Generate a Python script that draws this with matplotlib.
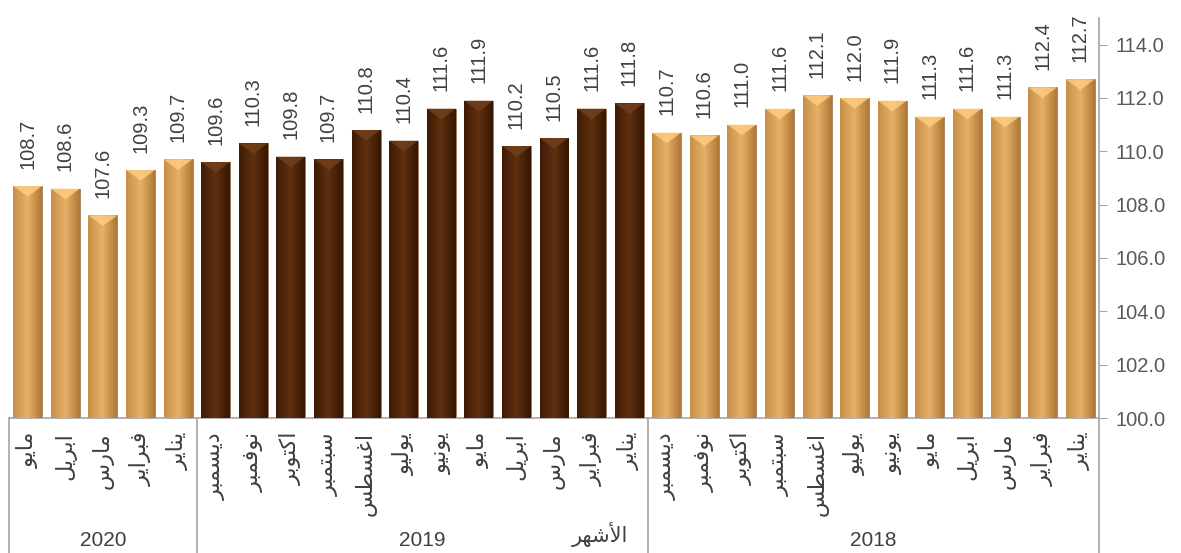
import numpy as np
import matplotlib
matplotlib.use("Agg")
import matplotlib.pyplot as plt
import matplotlib.transforms as mtransforms
from matplotlib.colors import to_rgb
from matplotlib.patches import Polygon

plt.rcParams['font.family'] = ['Liberation Sans', 'DejaVu Sans']

# data, left to right as in the chart
years = ['2020', '2019', '2018']
months_2020 = ['مايو', 'ابريل', 'مارس', 'فبراير', 'يناير']
months_full = ['ديسمبر', 'نوفمبر', 'اكتوبر', 'سبتمبر', 'اغسطس', 'يوليو',
               'يونيو', 'مايو', 'ابريل', 'مارس', 'فبراير', 'يناير']
values_2020 = [108.7, 108.6, 107.6, 109.3, 109.7]
values_2019 = [109.6, 110.3, 109.8, 109.7, 110.8, 110.4, 111.6, 111.9, 110.2, 110.5, 111.6, 111.8]
values_2018 = [110.7, 110.6, 111.0, 111.6, 112.1, 112.0, 111.9, 111.3, 111.6, 111.3, 112.4, 112.7]
y_ticks = [100, 102, 104, 106, 108, 110, 112, 114]
axis_title = 'الأشهر'

# small arabic shaper (presentation forms) since matplotlib does no shaping
FORMS = {
    'ا': ('\uFE8D', '\uFE8E', None, None),
    'أ': ('\uFE83', '\uFE84', None, None),
    'ب': ('\uFE8F', '\uFE90', '\uFE91', '\uFE92'),
    'ت': ('\uFE95', '\uFE96', '\uFE97', '\uFE98'),
    'د': ('\uFEA9', '\uFEAA', None, None),
    'ر': ('\uFEAD', '\uFEAE', None, None),
    'س': ('\uFEB1', '\uFEB2', '\uFEB3', '\uFEB4'),
    'ش': ('\uFEB5', '\uFEB6', '\uFEB7', '\uFEB8'),
    'ط': ('\uFEC1', '\uFEC2', '\uFEC3', '\uFEC4'),
    'غ': ('\uFECD', '\uFECE', '\uFECF', '\uFED0'),
    'ف': ('\uFED1', '\uFED2', '\uFED3', '\uFED4'),
    'ك': ('\uFED9', '\uFEDA', '\uFEDB', '\uFEDC'),
    'ل': ('\uFEDD', '\uFEDE', '\uFEDF', '\uFEE0'),
    'م': ('\uFEE1', '\uFEE2', '\uFEE3', '\uFEE4'),
    'ن': ('\uFEE5', '\uFEE6', '\uFEE7', '\uFEE8'),
    'ه': ('\uFEE9', '\uFEEA', '\uFEEB', '\uFEEC'),
    'و': ('\uFEED', '\uFEEE', None, None),
    'ي': ('\uFEF1', '\uFEF2', '\uFEF3', '\uFEF4'),
}
LAM_ALEF = {'ا': ('\uFEFB', '\uFEFC'), 'أ': ('\uFEF7', '\uFEF8')}


def shape(word):
    units = []
    i = 0
    while i < len(word):
        ch = word[i]
        if ch == 'ل' and i + 1 < len(word) and word[i + 1] in LAM_ALEF:
            units.append(('lig', LAM_ALEF[word[i + 1]]))
            i += 2
        else:
            units.append(('ch', ch))
            i += 1
    out = []
    for k, (kind, val) in enumerate(units):
        prev_joins = k > 0 and units[k - 1][0] == 'ch' and FORMS[units[k - 1][1]][2] is not None
        if kind == 'lig':
            out.append(val[1] if prev_joins else val[0])
            continue
        iso, fin, ini, med = FORMS[val]
        next_joins = ini is not None and k + 1 < len(units)
        if prev_joins and next_joins:
            out.append(med)
        elif prev_joins:
            out.append(fin)
        elif next_joins:
            out.append(ini)
        else:
            out.append(iso)
    return ''.join(reversed(out))


groups = [months_2020, months_full, months_full]
group_values = [values_2020, values_2019, values_2018]
labels = [m for g in groups for m in g]
values = [v for g in group_values for v in g]
x = np.arange(len(values))

gold = ('#c98f48', '#e6b069', '#b07736')
brown = ('#3f1b05', '#5e300f', '#361603')
bar_styles = [gold, brown, gold]
colors = [s for s, g in zip(bar_styles, groups) for _ in g]

fig = plt.figure(figsize=(11.81, 5.53), dpi=100)
ax = fig.add_axes([0.0076, 0.2441, 0.9230, 0.7234])

width = 0.77
bars = ax.bar(x, values, width=width, color=[c[1] for c in colors],
              edgecolor='#9a7a5a', linewidth=0.6, zorder=2)
for b, c, v in zip(bars, colors, values):
    left, mid, right = [np.array(to_rgb(k)) for k in c]
    t = np.linspace(0, 1, 64)[:, None]
    grad = np.where(t < 0.5, left + (mid - left) * (t / 0.5), mid + (right - mid) * ((t - 0.5) / 0.5))
    img = ax.imshow(grad[None, :, :], extent=[b.get_x(), b.get_x() + width, 100, v],
                    aspect='auto', zorder=3, interpolation='bilinear')
    img.set_clip_path(b)
    top_col = np.clip(mid * 1.12 + 0.04, 0, 1)
    tri = Polygon([[b.get_x(), v], [b.get_x() + width, v], [b.get_x() + width / 2, v - 0.4]],
                  closed=True, facecolor=top_col, edgecolor='none', alpha=0.8, zorder=4)
    ax.add_patch(tri)
    ax.annotate(f'{v:.1f}', xy=(b.get_x() + width / 2, v), xytext=(0, 12.5),
                textcoords='offset points', rotation=90, ha='center', va='bottom',
                fontsize=14.5, color='#404040')

ax.set_xlim(-0.5, len(values) - 0.5)
ax.set_ylim(100, 115)
ax.yaxis.tick_right()
ax.set_yticks(y_ticks)
ax.set_yticklabels([f'{t:.1f}' for t in y_ticks])
ax.tick_params(axis='y', length=6, color='#a6a6a6', labelsize=14.5, labelcolor='#595959', pad=6)
ax.set_xticks([])
for s in ['top', 'left']:
    ax.spines[s].set_visible(False)
for s in ['right', 'bottom']:
    ax.spines[s].set_color('#a6a6a6')
    ax.spines[s].set_linewidth(1.2)

# category table below the axis
trans = mtransforms.blended_transform_factory(ax.transData, ax.transAxes)
ftrans = mtransforms.blended_transform_factory(ax.transData, fig.transFigure)
for xi, lab in zip(x, labels):
    ax.annotate(shape(lab), xy=(xi, 0), xycoords=trans, xytext=(0, -10),
                textcoords='offset points', rotation=90, ha='center', va='top',
                fontsize=16, color='#404040')
edges = np.cumsum([0] + [len(g) for g in groups]) - 0.5
for e in edges:
    ax.plot([e, e], [0, -0.34], transform=trans, color='#a6a6a6', lw=1.2, clip_on=False)
for yr, a, b in zip(years, edges[:-1], edges[1:]):
    fig.text((a + b) / 2, 0.0235, yr, transform=ftrans, ha='center', va='center',
             fontsize=15, color='#404040')
fig.text(0.508, 0.034, shape(axis_title), ha='center', va='center', fontsize=15, color='#404040')

fig.savefig('out.png', dpi=100)
